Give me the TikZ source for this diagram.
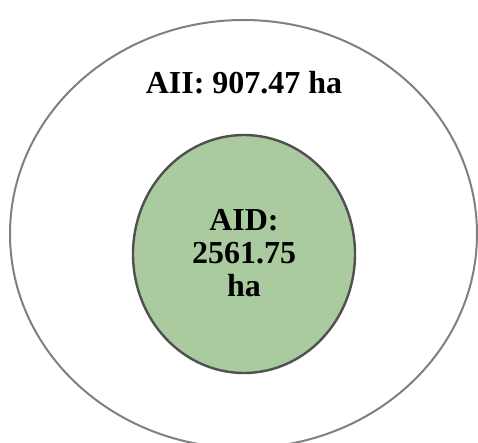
\documentclass[tikz,border=0pt]{standalone}
\usepackage{fontspec}
\setmainfont{Liberation Serif}
\usetikzlibrary{shapes.geometric}
\definecolor{innerfill}{RGB}{170,203,159}
\definecolor{outerline}{RGB}{128,128,128}
\definecolor{innerline}{RGB}{80,80,80}
\tikzset{
  zone/.style={ellipse, inner sep=0pt, outer sep=0pt},
  lbl/.style={font=\bfseries\fontsize{32}{33}\selectfont, inner sep=0pt, align=center}
}
\begin{document}
\begin{tikzpicture}[x=1pt,y=-1pt]
\useasboundingbox (0,0) rectangle (478,443);
\clip (0,0) rectangle (478,443);
\fill[white] (0,0) rectangle (478,443);
\node[zone, draw=outerline, line width=2pt, minimum width=467pt, minimum height=428pt] (outer) at (243.5,234) {};
\node[zone, draw=innerline, line width=2.4pt, fill=innerfill, minimum width=222pt, minimum height=238pt] (inner) at (244,254) {};
\node[lbl, anchor=base] (aii) at (244,94) {AII: 907.47 ha};
\node[lbl, anchor=base] (aid) at (244,296) {AID:\\2561.75\\ha};
\end{tikzpicture}
\end{document}
